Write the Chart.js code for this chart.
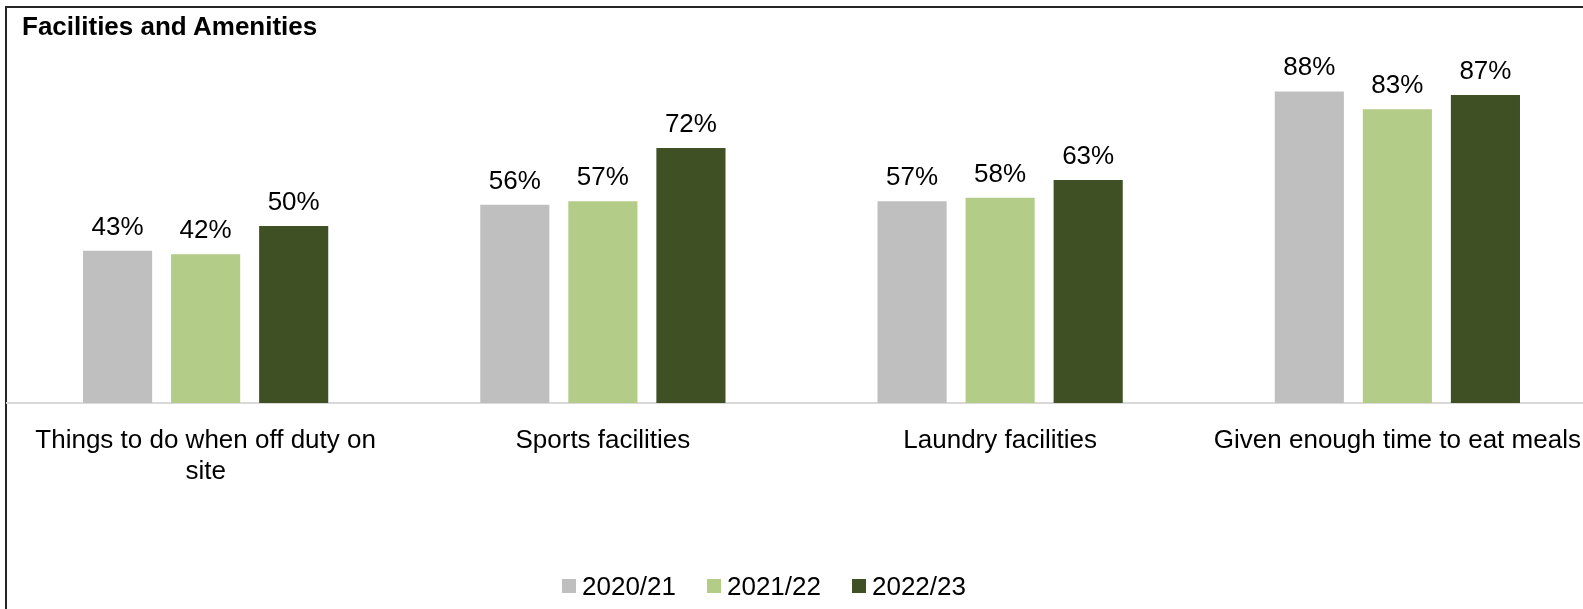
<!DOCTYPE html>
<html>
<head>
<meta charset="utf-8">
<script src="https://cdn.jsdelivr.net/npm/chart.js@4/dist/chart.umd.min.js"></script>
<style>
    html, body { margin: 0; padding: 0; background: #fff; overflow: hidden; }
    body { width: 1583px; height: 609px; position: relative; font-family: Arial, 'Liberation Sans', sans-serif; }
    .frame { position: absolute; left: 5px; top: 6px; width: 1700px; height: 700px; border-left: 2px solid #262626; border-top: 2px solid #262626; }
    .chart-wrap { position: absolute; left: 0; top: 0; width: 1600px; height: 609px; }
    .chart-title { position: absolute; left: 22px; top: 13px; font-size: 26px; line-height: 26px; font-weight: bold; color: #000; }
    .legend { position: absolute; left: 562px; top: 572px; display: flex; font-size: 26px; line-height: 28px; color: #000; }
    .legend-item { display: flex; align-items: center; margin-right: 31px; }
    .legend-box { width: 14px; height: 14px; margin-right: 6px; }
</style>
</head>
<body>
<div class="frame"></div>
<div class="chart-wrap"><canvas id="myChart"></canvas></div>
<div class="chart-title">Facilities and Amenities</div>
<div class="legend" id="legend"></div>
<script>
const categories = [
    ['Things to do when off duty on', 'site'],
    'Sports facilities',
    'Laundry facilities',
    'Given enough time to eat meals'
];
const seriesNames = ['2020/21', '2021/22', '2022/23'];
const values2021 = [43, 56, 57, 88];
const values2122 = [42, 57, 58, 83];
const values2223 = [50, 72, 63, 87];
const seriesColors = ['#bfbfbf', '#b3cc87', '#3f5024'];

document.addEventListener('DOMContentLoaded', () => {
    const chartCanvas = document.getElementById('myChart');
    const ctx = chartCanvas.getContext('2d');
    const font = "Arial, 'Liberation Sans', sans-serif";

    // value labels above each bar
    const barLabels = {
        id: 'barLabels',
        afterDatasetsDraw(chart) {
            const c = chart.ctx;
            c.save();
            c.font = '26px ' + font;
            c.fillStyle = '#000';
            c.textAlign = 'center';
            c.textBaseline = 'alphabetic';
            chart.data.datasets.forEach((ds, i) => {
                chart.getDatasetMeta(i).data.forEach((bar, j) => {
                    c.fillText(ds.data[j] + '%', bar.x, bar.y - 16);
                });
            });
            c.restore();
        }
    };

    const allValues = [values2021, values2122, values2223];
    const data = {
        labels: categories,
        datasets: seriesNames.map((name, i) => ({
            label: name,
            data: allValues[i],
            backgroundColor: seriesColors[i],
            categoryPercentage: 0.665,
            barPercentage: 0.785
        }))
    };

    new Chart(ctx, {
        type: 'bar',
        data: data,
        plugins: [barLabels],
        options: {
            responsive: true,
            maintainAspectRatio: false,
            animation: false,
            layout: { padding: { left: 7, right: 4, top: 49, bottom: 0 } },
            plugins: {
                legend: { display: false },
                tooltip: { enabled: false }
            },
            scales: {
                x: {
                    grid: { display: false },
                    border: { display: true, color: '#d9d9d9', width: 2 },
                    ticks: {
                        color: '#000',
                        padding: 14,
                        maxRotation: 0,
                        autoSkip: false,
                        font: { family: font, size: 26, lineHeight: 1.2 }
                    },
                    afterFit: (scale) => { scale.height = 206; }
                },
                y: {
                    display: false,
                    min: 0,
                    max: 100
                }
            }
        }
    });

    // legend built from the same series arrays
    const legend = document.getElementById('legend');
    seriesNames.forEach((name, i) => {
        const item = document.createElement('div');
        item.className = 'legend-item';
        const box = document.createElement('span');
        box.className = 'legend-box';
        box.style.background = seriesColors[i];
        item.appendChild(box);
        item.appendChild(document.createTextNode(name));
        legend.appendChild(item);
    });
});
</script>
</body>
</html>
